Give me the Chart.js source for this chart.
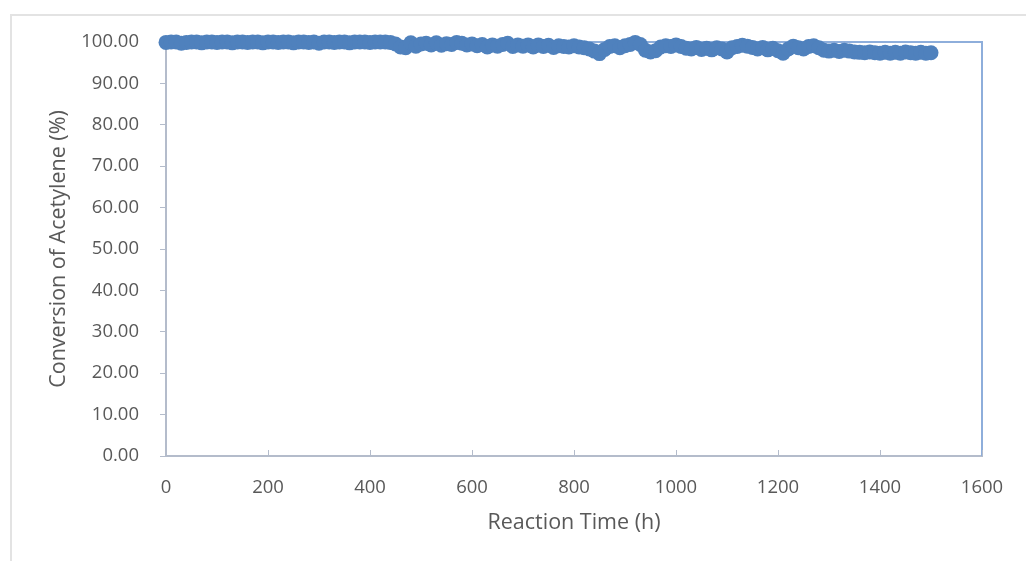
<!DOCTYPE html>
<html>
<head>
<meta charset="utf-8">
<script src="https://cdn.jsdelivr.net/npm/chart.js"></script>
<style>
  html, body { margin: 0; padding: 0; background: #fff; }
  #wrap { position: relative; width: 1026px; height: 561px; overflow: hidden; }
  #frame { position: absolute; left: 10px; top: 14px; width: 1100px; height: 600px; border: 2px solid #e3e3e3; }
  #chart_box { position: absolute; left: 0; top: 0; width: 1026px; height: 561px; }
</style>
</head>
<body>
<div id="wrap">
  <div id="frame"></div>
  <div id="chart_box"><canvas id="scatter_chart"></canvas></div>
</div>
<script>
// reaction time (h)
var hours = [
  0, 10, 20, 30, 40, 50, 60, 70, 80, 90,
  100, 110, 120, 130, 140, 150, 160, 170, 180, 190,
  200, 210, 220, 230, 240, 250, 260, 270, 280, 290,
  300, 310, 320, 330, 340, 350, 360, 370, 380, 390,
  400, 410, 420, 430, 440, 450, 460, 470, 480, 490,
  500, 510, 520, 530, 540, 550, 560, 570, 580, 590,
  600, 610, 620, 630, 640, 650, 660, 670, 680, 690,
  700, 710, 720, 730, 740, 750, 760, 770, 780, 790,
  800, 810, 820, 830, 840, 850, 860, 870, 880, 890,
  900, 910, 920, 930, 940, 950, 960, 970, 980, 990,
  1000, 1010, 1020, 1030, 1040, 1050, 1060, 1070, 1080, 1090,
  1100, 1110, 1120, 1130, 1140, 1150, 1160, 1170, 1180, 1190,
  1200, 1210, 1220, 1230, 1240, 1250, 1260, 1270, 1280, 1290,
  1300, 1310, 1320, 1330, 1340, 1350, 1360, 1370, 1380, 1390,
  1400, 1410, 1420, 1430, 1440, 1450, 1460, 1470, 1480, 1490,
  1500
];
// conversion of acetylene (%)
var conversion = [
  99.9, 100.0, 100.0, 99.7, 99.9, 100.0, 100.0, 99.8, 100.0, 100.0,
  99.9, 100.0, 100.0, 99.8, 100.0, 100.0, 99.9, 100.0, 100.0, 99.8,
  100.0, 100.0, 99.9, 100.0, 100.0, 99.8, 100.0, 100.0, 99.9, 100.0,
  99.7, 100.0, 100.0, 99.9, 100.0, 100.0, 99.8, 100.0, 100.0, 100.0,
  99.9, 100.0, 100.0, 100.0, 99.9, 99.5, 98.8, 98.6, 99.8, 99.0,
  99.5, 99.7, 99.3, 99.8, 99.2, 99.6, 99.4, 99.9, 99.7, 99.3,
  99.5, 99.1, 99.4, 98.8, 99.3, 99.0, 99.4, 99.7, 98.9, 99.3,
  99.0, 99.3, 98.8, 99.3, 98.9, 99.2, 98.7, 99.1, 98.9, 98.8,
  99.1, 98.8, 98.6, 98.3, 97.8, 97.2, 98.2, 98.9, 99.1, 98.6,
  99.1, 99.4, 99.9, 99.4, 98.0, 97.6, 97.9, 98.8, 99.1, 98.9,
  99.3, 98.9, 98.5, 98.3, 98.7, 98.2, 98.5, 98.1, 98.6, 98.3,
  97.6, 98.6, 98.9, 99.2, 99.0, 98.7, 98.3, 98.7, 98.1, 98.5,
  97.9, 97.3, 98.3, 99.0, 98.6, 98.3, 98.9, 99.1, 98.6, 98.0,
  97.8, 98.0, 97.7, 98.0, 97.8, 97.6, 97.5, 97.4, 97.6, 97.4,
  97.3, 97.5, 97.3, 97.5, 97.3, 97.6, 97.4, 97.3, 97.5, 97.3,
  97.4
];

var points = hours.map(function(h, i) { return {x: h, y: conversion[i]}; });

var textColor = '#595959';
var axisColor = '#b4bccb';
var frameBlue = '#8eaedb';
var tickFont = {family: 'Open Sans', size: 18.5};
var titleFont = {family: 'Open Sans', size: 21.5};

// plot-area frame on top/right and inward x ticks
var framePlugin = {
  id: 'framePlugin',
  beforeDatasetsDraw: function(chart) {
    var a = chart.chartArea, ctx = chart.ctx;
    ctx.save();
    ctx.strokeStyle = frameBlue;
    ctx.lineWidth = 2;
    ctx.beginPath();
    ctx.moveTo(a.left, a.top);
    ctx.lineTo(a.right, a.top);
    ctx.lineTo(a.right, a.bottom);
    ctx.stroke();
    var xs = chart.scales.x;
    ctx.strokeStyle = axisColor;
    ctx.lineWidth = 1;
    xs.ticks.forEach(function(t) {
      var px = Math.round(xs.getPixelForValue(t.value)) + 0.5;
      ctx.beginPath();
      ctx.moveTo(px, a.bottom);
      ctx.lineTo(px, a.bottom - 6);
      ctx.stroke();
    });
    ctx.restore();
  }
};

var ctx = document.getElementById('scatter_chart').getContext('2d');
new Chart(ctx, {
  type: 'scatter',
  data: {
    datasets: [{
      label: 'Conversion',
      data: points,
      backgroundColor: '#4f81bd',
      borderWidth: 0,
      pointRadius: 7.5,
      pointHoverRadius: 7.5,
      clip: false
    }]
  },
  options: {
    responsive: true,
    maintainAspectRatio: false,
    animation: false,
    layout: {padding: {left: 42, top: 42, right: 44, bottom: 21}},
    plugins: {legend: {display: false}, tooltip: {enabled: false}},
    scales: {
      x: {
        type: 'linear',
        min: 0,
        max: 1600,
        ticks: {
          stepSize: 200, color: textColor, font: tickFont, padding: 21, maxRotation: 0,
          callback: function(v) { return String(v); }
        },
        grid: {drawOnChartArea: false, drawTicks: false},
        border: {color: axisColor, width: 2},
        title: {display: true, text: 'Reaction Time (h)', color: textColor, font: titleFont, padding: {top: 4}},
        afterFit: function(s) { s.height = 561 - 456 - 21; }
      },
      y: {
        min: 0,
        max: 100,
        ticks: {
          stepSize: 10,
          color: textColor,
          font: tickFont,
          padding: 21,
          callback: function(v) { return v.toFixed(2); }
        },
        grid: {drawOnChartArea: false, drawTicks: true, tickLength: 6, color: axisColor},
        border: {color: axisColor, width: 2},
        title: {display: true, text: 'Conversion of Acetylene (%)', color: textColor, font: titleFont, padding: 4},
        afterFit: function(s) { s.width = 166 - 42; }
      }
    }
  },
  plugins: [framePlugin]
});
</script>
</body>
</html>
